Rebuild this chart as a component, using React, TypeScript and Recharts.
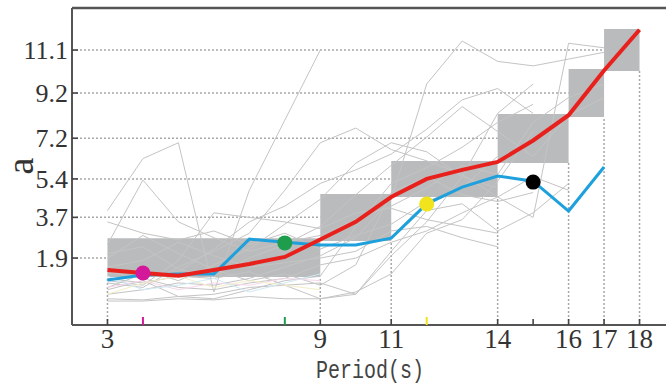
import React from "react";
import {
  ComposedChart,
  Line,
  XAxis,
  YAxis,
  ReferenceArea,
  ReferenceLine,
  ReferenceDot,
} from "recharts";

const periods = [3, 4, 5, 6, 7, 8, 9, 10, 11, 12, 13, 14, 15, 16, 17, 18];

// mean curve (red) and target curve (blue)
const meanCurve = [1.37, 1.24, 1.12, 1.37, 1.64, 1.95, 2.72, 3.5, 4.6, 5.4, 5.8, 6.15, 7.1, 8.22, 10.2, 12.0];
const targetCurve = [0.93, 1.15, 1.2, 1.2, 2.74, 2.6, 2.48, 2.48, 2.78, 4.3, 5.04, 5.53, 5.3, 3.98, 5.93, null];

// individual records (thin gray)
const records: (number | null)[][] = [
  [4.0, 6.3, 7.0, 0.4, 4.9, 8.0, 11.1, null, null, null, null, null, null, null, null, null],
  [2.5, 5.35, 3.5, 2.8, 2.2, 2.6, 2.9, 3.6, 4.2, 5.0, 6.0, 5.6, 7.9, 9.0, 9.6, null],
  [0.8, 0.6, 1.5, 2.2, 3.0, 4.9, 7.0, 7.65, 6.7, 6.2, 5.6, 4.6, 3.7, 11.4, 11.2, null],
  [1.2, 1.4, 0.9, 1.6, 2.3, 3.4, 4.5, 6.1, 7.0, 6.6, 5.5, 5.0, null, null, null, null],
  [0.3, 0.5, 0.8, 0.7, 1.0, 1.5, 2.0, 2.8, 4.5, 9.6, 11.5, 10.6, 10.4, 10.7, 11.0, null],
  [2.1, 2.4, 1.4, 1.1, 1.9, 2.5, 3.3, 4.7, 6.0, 7.25, 8.6, 7.5, 6.4, 8.2, 9.0, null],
  [0.1, 0.05, 0.2, 0.3, 0.6, 0.7, 0.1, 0.3, 2.0, 3.5, 5.5, 8.3, 9.6, null, null, null],
  [0.9, 0.7, 1.8, 3.9, 3.7, 3.5, 3.2, 3.9, 4.1, 3.6, 3.3, 3.0, null, null, null, null],
  [1.5, 1.8, 2.6, 2.0, 1.5, 1.7, 1.9, 2.2, 3.1, 3.3, 2.8, 2.4, null, null, null, null],
  [0.5, 0.9, 0.2, 0.1, 0.5, 0.9, 1.1, 3.3, 5.2, 5.9, 6.8, 7.9, 8.7, null, null, null],
  [1.9, 2.9, 2.1, 1.4, 0.9, 1.2, 0.7, 1.6, 4.8, 5.5, 4.7, 4.4, 4.8, null, null, null],
  [0.0, 0.0, 0.1, 0.05, 0.2, 0.1, 0.1, 0.4, 1.2, 3.0, 3.6, 5.3, 7.5, null, null, null],
  [3.5, 3.0, 2.7, 3.1, 2.5, 3.0, 2.3, 2.9, 3.4, 4.4, 5.0, 6.4, null, null, null, null],
  [1.0, 0.8, 1.1, 1.0, 1.3, 0.7, 0.8, 0.3, 2.2, 4.0, 4.3, 3.1, 3.9, 5.2, null, null],
  [0.6, 1.2, 1.3, 2.3, 3.5, 4.2, 5.2, 5.8, 6.5, 7.6, 8.9, 9.4, 8.3, null, null, null],
  [1.3, 1.0, 0.6, 0.5, 0.8, 1.0, 1.6, 1.9, 2.6, 3.1, 3.9, 4.6, 5.5, 4.9, null, null],
];

// faint coloured records in the lower left
const tintRecords: (number | null)[][] = [
  [0.6, 0.9, 0.5, 0.8, 0.7, 1.0, 0.9],
  [0.3, 0.8, 1.1, 0.6, 0.9, 0.7, 0.5],
  [1.1, 0.5, 0.7, 1.0, 0.4, 0.8, 1.2],
];
const tintColors = ["#f7d6ea", "#f3eec6", "#cfeaf5"];

// gray boxes
const boxFrom = [3, 9, 11, 14, 16, 17];
const boxTo = [9, 11, 14, 16, 17, 18];
const boxLow = [1.06, 2.65, 4.6, 6.1, 8.14, 10.17];
const boxHigh = [2.78, 4.73, 6.19, 8.27, 10.26, 12.03];

const yTicks = [1.9, 3.7, 5.4, 7.2, 9.2, 11.1];
const xLabels = [3, 9, 11, 14, 16, 17, 18];
const xTicks = [3, 4, 8, 9, 11, 12, 14, 15, 16, 17, 18];

const markX = [4, 8, 12, 15];
const markY = [1.24, 2.57, 4.29, 5.26];
const markColors = ["#d4189a", "#1e9d4c", "#f1e31c", "#000000"];

const X_MIN = 2;
const X_MAX = 19;
const Y_MIN = -1.06;
const Y_MAX = 12.96;

const data = periods.map((p, i) => {
  const row: Record<string, number | null> = {
    x: p,
    mean: meanCurve[i],
    target: targetCurve[i],
  };
  records.forEach((r, k) => {
    row["g" + k] = r[i] ?? null;
  });
  tintRecords.forEach((r, k) => {
    row["t" + k] = r[i] ?? null;
  });
  return row;
});

function XTick(props: any) {
  const { x, y, payload } = props;
  const v = payload.value;
  const mi = markX.indexOf(v);
  const colored = mi >= 0 && v !== 15;
  return (
    <g>
      <line
        x1={x}
        x2={x}
        y1={y}
        y2={y - (colored ? 8 : 6)}
        stroke={colored ? markColors[mi] : "#444"}
        strokeWidth={colored ? 2 : 1.6}
      />
      {xLabels.includes(v) && (
        <text
          x={x}
          y={y + 23}
          textAnchor="middle"
          fontSize={27}
          fontFamily="Liberation Serif"
          fill="#333"
        >
          {v}
        </text>
      )}
    </g>
  );
}

function YTick(props: any) {
  const { x, y, payload } = props;
  return (
    <g>
      <line x1={x} x2={x + 6} y1={y} y2={y} stroke="#444" strokeWidth={1.6} />
      <text
        x={x - 4}
        y={y + 9}
        textAnchor="end"
        fontSize={26}
        fontFamily="Liberation Serif"
        fill="#333"
      >
        {payload.value}
      </text>
    </g>
  );
}

function YLabel(props: any) {
  const { viewBox } = props;
  const cx = viewBox.x + 33;
  const cy = viewBox.y + 158;
  return (
    <text
      x={cx}
      y={cy}
      transform={`rotate(-90, ${cx}, ${cy})`}
      textAnchor="middle"
      fontSize={38}
      fontFamily="Liberation Serif"
      fill="#333"
    >
      a
    </text>
  );
}

function XLabel(props: any) {
  const { viewBox } = props;
  const cx = viewBox.x + 298;
  const cy = viewBox.y + 53;
  return (
    <text
      transform={`translate(${cx}, ${cy}) scale(0.8, 1)`}
      textAnchor="middle"
      fontSize={25}
      fontFamily="Liberation Mono"
      fill="#444"
    >
      Period(s)
    </text>
  );
}

export default function App() {
  return (
    <div
      style={{
        position: "fixed",
        left: 0,
        top: 0,
        width: 666,
        height: 385,
        overflow: "hidden",
        background: "#fff",
      }}
    >
      <ComposedChart
        width={700}
        height={385}
        data={data}
        margin={{ top: 8, right: 25, bottom: 0, left: 0 }}
      >
        <XAxis
          type="number"
          dataKey="x"
          domain={[X_MIN, X_MAX]}
          ticks={xTicks}
          interval={0}
          allowDataOverflow
          height={60}
          tickSize={0}
          tickMargin={0}
          tickLine={false}
          axisLine={{ stroke: "#555", strokeWidth: 2 }}
          tick={<XTick />}
          label={<XLabel />}
        />
        <YAxis
          type="number"
          domain={[Y_MIN, Y_MAX]}
          ticks={yTicks}
          interval={0}
          allowDataOverflow
          width={72}
          tickSize={0}
          tickMargin={0}
          tickLine={false}
          axisLine={{ stroke: "#555", strokeWidth: 2 }}
          tick={<YTick />}
          label={<YLabel />}
        />

        {yTicks.map((v, i) => (
          <ReferenceLine
            key={"h" + i}
            segment={[
              { x: X_MIN, y: v },
              { x: boxFrom[i], y: v },
            ]}
            stroke="#a8a8a8"
            strokeWidth={1.5}
            strokeDasharray="2 2"
          />
        ))}
        <ReferenceLine
          segment={[
            { x: boxFrom[0], y: Y_MIN },
            { x: boxFrom[0], y: boxLow[0] },
          ]}
          stroke="#a8a8a8"
          strokeWidth={1.5}
          strokeDasharray="2 2"
        />
        {boxTo.map((v, i) => (
          <ReferenceLine
            key={"v" + i}
            segment={[
              { x: v, y: Y_MIN },
              { x: v, y: boxLow[i] },
            ]}
            stroke="#a8a8a8"
            strokeWidth={1.5}
            strokeDasharray="2 2"
          />
        ))}

        {records.map((_, k) => (
          <Line
            key={"g" + k}
            dataKey={"g" + k}
            type="linear"
            stroke="#c4c4c4"
            strokeWidth={1}
            dot={false}
            activeDot={false}
            isAnimationActive={false}
          />
        ))}
        {tintRecords.map((_, k) => (
          <Line
            key={"t" + k}
            dataKey={"t" + k}
            type="linear"
            stroke={tintColors[k]}
            strokeWidth={1}
            dot={false}
            activeDot={false}
            isAnimationActive={false}
          />
        ))}

        {boxFrom.map((v, i) => (
          <ReferenceArea
            key={"b" + i}
            x1={v}
            x2={boxTo[i]}
            y1={boxLow[i]}
            y2={boxHigh[i]}
            fill="#9c9ea0"
            fillOpacity={0.7}
            stroke="none"
          />
        ))}

        <Line
          dataKey="target"
          type="linear"
          stroke="#1ea0dc"
          strokeWidth={3}
          dot={false}
          activeDot={false}
          isAnimationActive={false}
        />
        <Line
          dataKey="mean"
          type="linear"
          stroke="#e8211d"
          strokeWidth={4}
          dot={false}
          activeDot={false}
          isAnimationActive={false}
        />

        {markX.map((v, i) => (
          <ReferenceDot
            key={"m" + i}
            x={v}
            y={markY[i]}
            r={7.5}
            fill={markColors[i]}
            stroke="none"
          />
        ))}

        <ReferenceLine y={Y_MAX} stroke="#555" strokeWidth={2.5} />
      </ComposedChart>
    </div>
  );
}
